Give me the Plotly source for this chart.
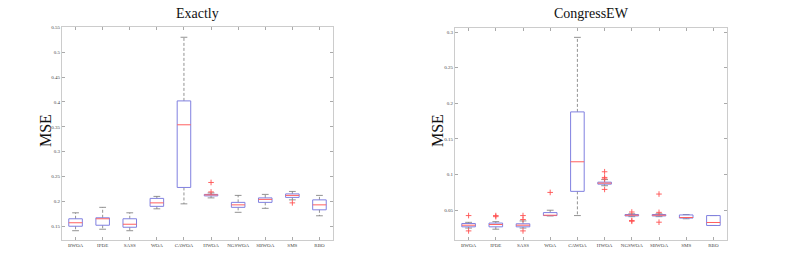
import plotly.graph_objects as go

categories = ["BWOA", "IPDE", "SASS", "WOA", "CAWOA", "HWOA", "NGSWOA", "SBWOA", "SMS", "RBO"]

# Exactly
ex_low = [0.141, 0.144, 0.141, 0.185, 0.195, 0.207, 0.178, 0.186, 0.203, 0.171]
ex_q1 = [0.150, 0.152, 0.148, 0.190, 0.228, 0.211, 0.188, 0.198, 0.208, 0.183]
ex_med = [0.157, 0.165, 0.154, 0.197, 0.354, 0.213, 0.193, 0.204, 0.212, 0.193]
ex_q3 = [0.165, 0.167, 0.165, 0.206, 0.402, 0.214, 0.198, 0.207, 0.215, 0.203]
ex_high = [0.177, 0.188, 0.177, 0.210, 0.530, 0.217, 0.212, 0.214, 0.220, 0.212]
ex_out_cat = ["HWOA", "HWOA", "SMS"]
ex_out_val = [0.238, 0.219, 0.197]
ex_yticks = [0.15, 0.2, 0.25, 0.3, 0.35, 0.4, 0.45, 0.5, 0.55]
ex_yticktext = ["0.15", "0.2", "0.25", "0.3", "0.35", "0.4", "0.45", "0.5", "0.55"]

# CongressEW
co_low = [0.025, 0.0234, 0.025, 0.042, 0.0425, 0.0844, 0.041, 0.041, 0.038, 0.0286]
co_q1 = [0.0267, 0.0267, 0.0267, 0.0425, 0.0765, 0.0866, 0.042, 0.042, 0.039, 0.0286]
co_med = [0.029, 0.030, 0.029, 0.043, 0.118, 0.088, 0.043, 0.043, 0.0398, 0.0328]
co_q3 = [0.0314, 0.032, 0.031, 0.0467, 0.188, 0.0894, 0.044, 0.044, 0.0434, 0.0425]
co_high = [0.033, 0.034, 0.035, 0.050, 0.2926, 0.093, 0.045, 0.045, 0.044, 0.0425]
co_out_cat = ["BWOA", "BWOA", "IPDE", "IPDE", "SASS", "SASS", "SASS", "WOA",
              "HWOA", "HWOA", "HWOA", "HWOA", "NGSWOA", "NGSWOA", "NGSWOA",
              "SBWOA", "SBWOA", "SBWOA"]
co_out_val = [0.0425, 0.021, 0.0425, 0.041, 0.0425, 0.037, 0.021, 0.075,
              0.104, 0.096, 0.094, 0.0792, 0.0475, 0.0356, 0.0345,
              0.0727, 0.047, 0.0332]
co_yticks = [0.05, 0.1, 0.15, 0.2, 0.25, 0.3]
co_yticktext = ["0.05", "0.1", "0.15", "0.2", "0.25", "0.3"]

BOX_HW = 0.25
CAP_HW = 0.125
SERIF = "Liberation Serif, Times New Roman, serif"
W, H = 787, 261

fig = go.Figure()


def add_panel(low, q1, med, q3, high, out_cat, out_val, xa, ya):
    bx, by, mx, my, wx, wy, cx, cy = [], [], [], [], [], [], [], []
    for i in range(len(categories)):
        p = i + 1
        bx += [p - BOX_HW, p + BOX_HW, p + BOX_HW, p - BOX_HW, p - BOX_HW, None]
        by += [q1[i], q1[i], q3[i], q3[i], q1[i], None]
        mx += [p - BOX_HW, p + BOX_HW, None]
        my += [med[i], med[i], None]
        wx += [p, p, None, p, p, None]
        wy += [q3[i], high[i], None, q1[i], low[i], None]
        cx += [p - CAP_HW, p + CAP_HW, None, p - CAP_HW, p + CAP_HW, None]
        cy += [high[i], high[i], None, low[i], low[i], None]
    common = dict(xaxis=xa, yaxis=ya, mode="lines", showlegend=False, hoverinfo="skip")
    fig.add_trace(go.Scatter(x=wx, y=wy, line=dict(color="#777777", width=0.8, dash="3px,2px"), **common))
    fig.add_trace(go.Scatter(x=cx, y=cy, line=dict(color="#777777", width=0.8), **common))
    fig.add_trace(go.Scatter(x=bx, y=by, line=dict(color="#8080e0", width=1), **common))
    fig.add_trace(go.Scatter(x=mx, y=my, line=dict(color="#ff6060", width=1), **common))
    ox = [categories.index(c) + 1 for c in out_cat]
    fig.add_trace(go.Scatter(x=ox, y=out_val, xaxis=xa, yaxis=ya, mode="markers",
                             marker=dict(symbol="cross-thin", size=4, line=dict(color="#ff5050", width=0.9)),
                             showlegend=False, hoverinfo="skip"))


add_panel(ex_low, ex_q1, ex_med, ex_q3, ex_high, ex_out_cat, ex_out_val, "x", "y")
add_panel(co_low, co_q1, co_med, co_q3, co_high, co_out_cat, co_out_val, "x2", "y2")

axcommon = dict(showgrid=False, zeroline=False, showline=True, linecolor="#cccccc", linewidth=1,
                mirror="allticks", ticks="inside", ticklen=3, tickcolor="#aaaaaa",
                tickfont=dict(family=SERIF, size=5, color="#444444"))

xt = list(range(1, len(categories) + 1))


def px(x):
    return x / W


def py(y):
    return 1 - y / H


def ann(text, x, y, size, angle=0):
    return dict(text=text, x=px(x), y=py(y), xref="paper", yref="paper", showarrow=False,
                xanchor="center", yanchor="middle", textangle=angle,
                font=dict(family=SERIF, size=size, color="#111111"))


fig.update_layout(
    width=W, height=H,
    margin=dict(l=0, r=0, t=0, b=0, pad=0),
    paper_bgcolor="white", plot_bgcolor="white",
    xaxis=dict(domain=[px(62), px(333)], range=[0.5, 10.5], tickvals=xt, ticktext=categories,
               anchor="y", **axcommon),
    yaxis=dict(domain=[py(240), py(25.5)], range=[0.122, 0.55], tickvals=ex_yticks,
               ticktext=ex_yticktext, anchor="x", **axcommon),
    xaxis2=dict(domain=[px(455), px(727)], range=[0.5, 10.5], tickvals=xt, ticktext=categories,
                anchor="y2", **axcommon),
    yaxis2=dict(domain=[py(240), py(26)], range=[0.008, 0.306], tickvals=co_yticks,
                ticktext=co_yticktext, anchor="x2", **axcommon),
    annotations=[
        ann("Exactly", 197, 12, 14),
        ann("CongressEW", 591, 12, 14),
        ann("MSE", 45, 130, 16, -90),
        ann("MSE", 437, 130, 16, -90),
    ],
)

fig.write_html("out.html", config={"displayModeBar": False},
               post_script="document.body.style.margin='0px';")
